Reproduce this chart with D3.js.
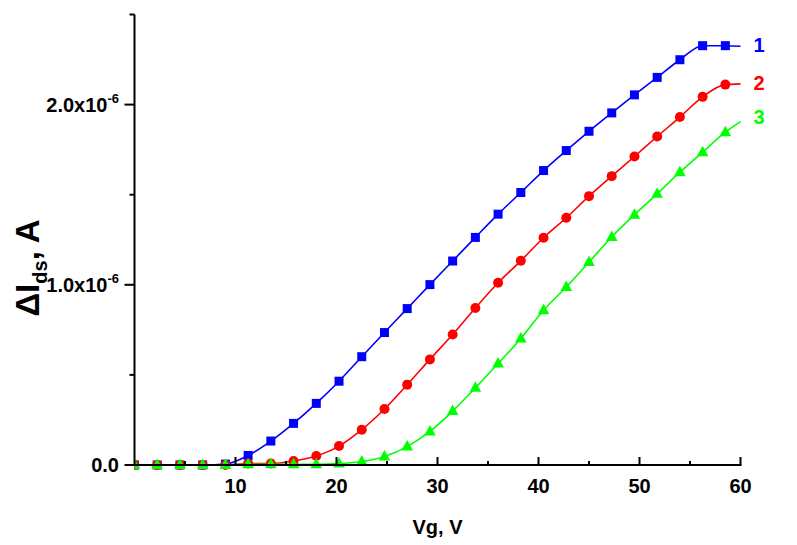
<!DOCTYPE html>
<html><head><meta charset="utf-8">
<script src="https://cdn.jsdelivr.net/npm/d3@7"></script>
<style>html,body{margin:0;padding:0;background:#fff;} svg{display:block;font-family:Arial,"Liberation Sans",sans-serif;font-weight:bold;}</style>
</head><body>
<svg id="c" width="797" height="545"></svg>
<script>
// Gate voltage (V) at each marker
const vg = [0,2.25,4.5,6.75,9,11.25,13.5,15.75,18,20.25,22.5,24.75,27,29.25,31.5,33.75,36,38.25,40.5,42.75,45,47.25,49.5,51.75,54,56.25,58.5];
// ΔIds in units of 1e-6 A
const series1 = [0,0,0,0,0.005,0.053,0.133,0.231,0.342,0.465,0.601,0.735,0.868,1.001,1.132,1.263,1.392,1.512,1.634,1.745,1.852,1.954,2.054,2.151,2.249,2.327,2.327];
const series2 = [0,0,0,0,0,0.008,0.008,0.022,0.050,0.105,0.196,0.311,0.446,0.586,0.724,0.871,1.011,1.133,1.261,1.372,1.492,1.603,1.712,1.823,1.931,2.043,2.111];
const series3 = [0,0,0,0,0,0.004,0.004,0.004,0.004,0.008,0.019,0.047,0.102,0.186,0.299,0.428,0.563,0.702,0.859,0.988,1.126,1.265,1.389,1.505,1.625,1.736,1.847];
// value of each curve where the line ends at Vg = 60
const lineEndVg = 60;
const lineEnd = [2.324, 2.115, 1.906];
const seriesNames = ["1","2","3"];
const colors = ["#0000ff","#ff0000","#00ff00"];
const xMajorTicks = [10,20,30,40,50,60];
const xMinorTicks = [5,15,25,35,45,55];
const yMajorTicks = [0,1,2];
const yMajorLabels = ["0.0","1.0x10","2.0x10"];
const yMinorTicks = [0.5,1.5,2.5];

const svg = d3.select("#c");
const x = d3.scaleLinear().domain([0,60]).range([134.5,740.5]);
const y = d3.scaleLinear().domain([0,2.5]).range([465,14.5]);

svg.append("defs").append("clipPath").attr("id","clip")
  .append("rect").attr("x",x(0)).attr("y",0).attr("width",797-x(0)).attr("height",545);

const g = svg.append("g").attr("clip-path","url(#clip)");
const allSeries = [series1,series2,series3];
const line = d3.line().x(d=>x(d[0])).y(d=>y(d[1])).curve(d3.curveMonotoneX);

allSeries.forEach((s,k)=>{
  const pts = vg.map((v,i)=>[v,s[i]]).concat([[lineEndVg,lineEnd[k]]]);
  g.append("path").attr("d",line(pts)).attr("fill","none").attr("stroke",colors[k]).attr("stroke-width",1.6);
});
allSeries.forEach((s,k)=>{
  const pts = vg.map((v,i)=>[v,s[i]]);
  const sel = g.selectAll(null).data(pts).enter();
  if(k===0){
    sel.append("rect").attr("x",d=>x(d[0])-4.5).attr("y",d=>y(d[1])-4.5).attr("width",9).attr("height",9).attr("fill",colors[k]);
  } else if(k===1){
    sel.append("circle").attr("cx",d=>x(d[0])).attr("cy",d=>y(d[1])).attr("r",5).attr("fill",colors[k]);
  } else {
    sel.append("path").attr("d",d=>{const cx=x(d[0]),cy=y(d[1]);return `M${cx},${cy-6.5}L${cx+5.8},${cy+4}L${cx-5.8},${cy+4}Z`;}).attr("fill",colors[k]);
  }
});

// axes
const ax = svg.append("g").attr("stroke","#000").attr("stroke-width",2);
ax.append("line").attr("x1",x(0)).attr("x2",x(60)+1).attr("y1",y(0)).attr("y2",y(0));
ax.append("line").attr("x1",x(0)).attr("x2",x(0)).attr("y1",y(0)+1).attr("y2",y(2.5));
xMajorTicks.forEach(t=>ax.append("line").attr("x1",x(t)).attr("x2",x(t)).attr("y1",y(0)).attr("y2",y(0)-8));
xMinorTicks.forEach(t=>ax.append("line").attr("x1",x(t)).attr("x2",x(t)).attr("y1",y(0)).attr("y2",y(0)-4));
yMajorTicks.forEach(t=>ax.append("line").attr("x1",x(0)).attr("x2",x(0)-10).attr("y1",y(t)).attr("y2",y(t)));
yMinorTicks.forEach(t=>ax.append("line").attr("x1",x(0)).attr("x2",x(0)-5).attr("y1",y(t)).attr("y2",y(t)));

svg.selectAll(null).data(xMajorTicks).enter().append("text")
  .attr("x",d=>x(d)).attr("y",y(0)+28).attr("text-anchor","middle").attr("font-size",20).text(d=>d);

yMajorTicks.forEach((t,i)=>{
  const tx = svg.append("text").attr("x",119).attr("y",y(t)+7).attr("text-anchor","end").attr("font-size",20);
  tx.append("tspan").text(yMajorLabels[i]);
  if(t!==0) tx.append("tspan").attr("dy",-9).attr("font-size",13).text("-6");
});

svg.append("text").attr("x",(x(0)+x(60))/2).attr("y",534).attr("text-anchor","middle").attr("font-size",20).text("Vg, V");

const yl = svg.append("text").attr("transform","translate(39,268) rotate(-90)").attr("text-anchor","middle").attr("font-size",33);
yl.append("tspan").text("ΔI");
yl.append("tspan").attr("dy",8).attr("font-size",20).text("ds");
yl.append("tspan").attr("dy",-8).text(", A");

const labY = [45,83,117];
seriesNames.forEach((n,k)=>{
  svg.append("text").attr("x",759).attr("y",labY[k]+7).attr("text-anchor","middle").attr("font-size",20).attr("fill",colors[k]).text(n);
});
</script>
</body></html>
